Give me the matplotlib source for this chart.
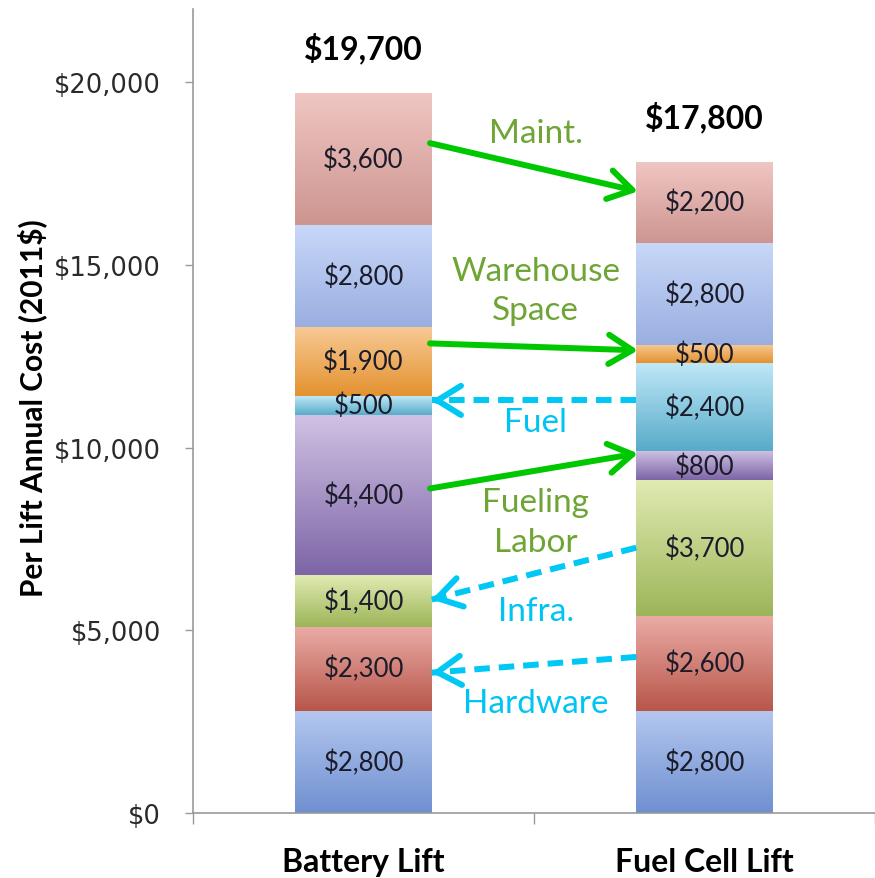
import numpy as np
import matplotlib
matplotlib.use("Agg")
import matplotlib.pyplot as plt
from matplotlib.colors import to_rgb
from matplotlib.patches import FancyArrowPatch

# ---------------- data ----------------
categories = ["Battery Lift", "Fuel Cell Lift"]
segment_names = ["Lift", "Hardware", "Infra.", "Fueling Labor", "Fuel",
                 "Warehouse Space", "Other", "Maint."]
battery_values = [2800, 2300, 1400, 4400, 500, 1900, 2800, 3600]
fuelcell_values = [2800, 2600, 3700, 800, 2400, 500, 2800, 2200]
totals = [19700, 17800]
total_labels = ["$19,700", "$17,800"]
yticks = [0, 5000, 10000, 15000, 20000]
ytick_labels = ["$0", "$5,000", "$10,000", "$15,000", "$20,000"]

# gradient colours (top, bottom) per segment
seg_top = ["#b4c7f0", "#eaaca6", "#e0ebb2", "#d0c2e4", "#bfe7f7", "#f7ca96", "#c8d8f8", "#f0c6c2"]
seg_bot = ["#6f90cf", "#b85649", "#9cb558", "#7d65a6", "#57abc9", "#e4922f", "#9aafe1", "#cd9590"]

# annotations
ann_labels = ["Maint.", "Warehouse\nSpace", "Fuel", "Fueling\nLabor", "Infra.", "Hardware"]
ann_text_y = [18600, 14300, 10700, 7970, 5530, 3010]
ann_colors = ["#6ea535", "#6ea535", "#00c4f2", "#6ea535", "#00c4f2", "#00c4f2"]
arrow_y0 = [18330, 12850, 11290, 8880, 7260, 4270]
arrow_y1 = [17010, 12660, 11290, 9840, 5840, 3840]
arrow_from_battery = [True, True, False, True, False, False]
arrow_dashed = [False, False, True, False, True, True]
arrow_colors = ["#00c800", "#00c800", "#00c8f5", "#00c800", "#00c8f5", "#00c8f5"]

# ---------------- figure ----------------
fig = plt.figure(figsize=(8.75, 8.79), dpi=100)
ax = fig.add_axes([193 / 875, 65 / 879, 1 - 193 / 875, (814 - 10) / 879])

x = np.arange(len(categories))
width = 0.4
ylo, yhi = 0, 22000
xlo, xhi = -0.5, 1.49

def gradient(ax, patch, top, bot):
    x0, y0 = patch.get_x(), patch.get_y()
    w, h = patch.get_width(), patch.get_height()
    t = np.linspace(0, 1, 200)[:, None]
    c0 = np.array(to_rgb(top)); c1 = np.array(to_rgb(bot))
    arr = (c0[None, None, :] * (1 - t[:, :, None]) + c1[None, None, :] * t[:, :, None])
    ax.imshow(arr, extent=[x0, x0 + w, y0, y0 + h], aspect="auto",
              origin="upper", zorder=2, interpolation="bilinear")
    patch.set_visible(False)

for i, vals in enumerate([battery_values, fuelcell_values]):
    bottoms = np.concatenate([[0], np.cumsum(vals)[:-1]])
    bars = ax.bar(np.full(len(vals), x[i]), vals, width=width, bottom=bottoms,
                  color=seg_top, edgecolor="none", zorder=2)
    for j, (p, v, b) in enumerate(zip(bars, vals, bottoms)):
        gradient(ax, p, seg_top[j], seg_bot[j])
        ax.text(x[i], b + v / 2, f"${v:,}", ha="center", va="center",
                fontsize=18.5, family="Lato", color="#1b1b2a", zorder=4)
    ax.text(x[i], totals[i] + 1250, total_labels[i], ha="center", va="center",
            fontsize=23, family="Lato", fontweight="bold", color="black")

# annotations
xmid = 0.5 * (x[0] + x[1])
bl = x[0] + width / 2
br = x[1] - width / 2
for k in range(len(ann_labels)):
    ax.text(xmid + 0.005, ann_text_y[k], ann_labels[k], ha="center", va="center",
            fontsize=24, family="Lato", color=ann_colors[k], linespacing=1.4, zorder=5)
    if arrow_from_battery[k]:
        p0 = (bl - 0.005, arrow_y0[k]); p1 = (br + 0.005, arrow_y1[k])
    else:
        p0 = (br + 0.0, arrow_y0[k]); p1 = (bl + 0.0, arrow_y1[k])
    col = arrow_colors[k]
    style = "->,head_length=17,head_width=10.5"
    if arrow_dashed[k]:
        ax.plot([p0[0], p1[0]], [p0[1], p1[1]], color=col, lw=4.3,
                linestyle=(0, (2.6, 1.5)), dash_capstyle="butt", zorder=5)
        f = 0.03
        pa = (p1[0] + (p0[0] - p1[0]) * f, p1[1] + (p0[1] - p1[1]) * f)
        arr = FancyArrowPatch(pa, p1, arrowstyle=style,
                              mutation_scale=1, color=col, lw=4.3, shrinkA=0, shrinkB=0,
                              capstyle="round", joinstyle="round", zorder=5)
    else:
        arr = FancyArrowPatch(p0, p1, arrowstyle=style,
                              mutation_scale=1, color=col, lw=4.3, shrinkA=0, shrinkB=0,
                              capstyle="round", joinstyle="round", zorder=5)
    ax.add_patch(arr)

# axes styling
ax.set_xlim(xlo, xhi)
ax.set_ylim(ylo, yhi)
ax.set_yticks(yticks)
ax.set_yticklabels(ytick_labels, family="DejaVu Sans", fontsize=18.5, color="#2a2a2a")
ax.tick_params(axis="y", direction="out", length=6, width=1, color="#999999", pad=17)
ax.set_xticks([-0.5, 0.5, 1.5])
ax.set_xticklabels([])
ax.tick_params(axis="x", direction="out", length=8, width=1, color="#999999")
for xi, lab in zip(x, categories):
    ax.text(xi, -0.060, lab, transform=ax.get_xaxis_transform(), ha="center", va="center",
            fontsize=23, family="Lato", fontweight="bold", color="black")
for s in ["top", "right"]:
    ax.spines[s].set_visible(False)
for s in ["left", "bottom"]:
    ax.spines[s].set_color("#999999")
    ax.spines[s].set_linewidth(1.2)

fig.text(32 / 875, 1 - 408 / 879, "Per Lift Annual Cost (2011$)", rotation=90,
         ha="center", va="center", fontsize=21.5,
         family=["Lato", "DejaVu Sans"], fontweight="bold")

fig.savefig("out.png", dpi=100, facecolor="white")
